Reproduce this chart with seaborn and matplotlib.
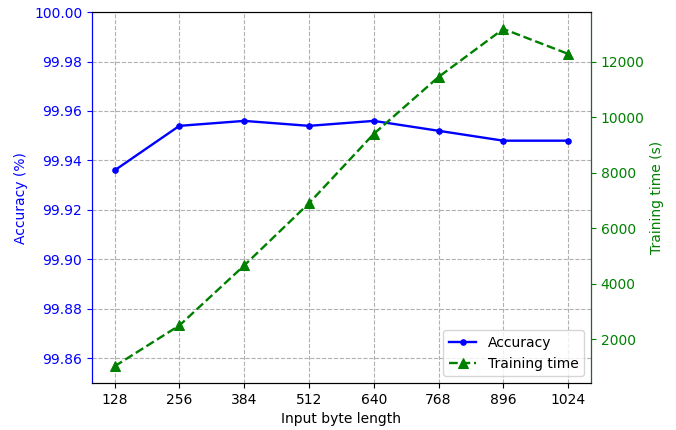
import matplotlib
matplotlib.use("Agg")
import matplotlib.pyplot as plt
import seaborn as sns
import pandas as pd

byte_length = [128, 256, 384, 512, 640, 768, 896, 1024]
accuracy = [99.936, 99.954, 99.956, 99.954, 99.956, 99.952, 99.948, 99.948]
training_time = [1030, 2500, 4660, 6900, 9400, 11450, 13180, 12280]
acc_ticks = [99.86, 99.88, 99.90, 99.92, 99.94, 99.96, 99.98, 100.00]

df = pd.DataFrame({"len": byte_length, "acc": accuracy, "time": training_time})

plt.rcParams['font.family'] = ['DejaVu Sans']
fig, ax1 = plt.subplots(figsize=(6.76, 4.30), dpi=100)
fig.subplots_adjust(left=0.136, right=0.874, top=0.972, bottom=0.109)

sns.lineplot(data=df, x="len", y="acc", ax=ax1, color="blue", marker="o",
             markersize=4, markeredgecolor="blue", linewidth=1.7, label="Accuracy", legend=False)
ax2 = ax1.twinx()
sns.lineplot(data=df, x="len", y="time", ax=ax2, color="green", marker="^",
             markersize=7, markeredgecolor="green", linewidth=1.7, linestyle="--",
             label="Training time", legend=False)

ax1.set_ylim(99.85, 100.00)
ax1.set_yticks(acc_ticks)
ax1.set_yticklabels([f"{v:.2f}" for v in acc_ticks])
ax1.set_xticks(byte_length)
ax1.set_xlabel("Input byte length", fontsize=10)
ax1.set_ylabel("Accuracy (%)", color="blue", fontsize=10)
ax2.set_ylabel("Training time (s)", color="green", fontsize=10)
ax1.tick_params(axis="y", colors="blue")
ax2.tick_params(axis="y", colors="green")
ax1.spines["left"].set_color("blue")
ax2.spines["left"].set_color("blue")
ax2.spines["right"].set_color("green")
ax1.grid(True, linestyle="--", color="#b0b0b0", linewidth=0.8)
ax1.set_axisbelow(True)

h1, l1 = ax1.get_legend_handles_labels()
h2, l2 = ax2.get_legend_handles_labels()
ax2.legend(h1 + h2, l1 + l2, loc="lower right", fontsize=10)

fig.savefig("out.png", dpi=100)
